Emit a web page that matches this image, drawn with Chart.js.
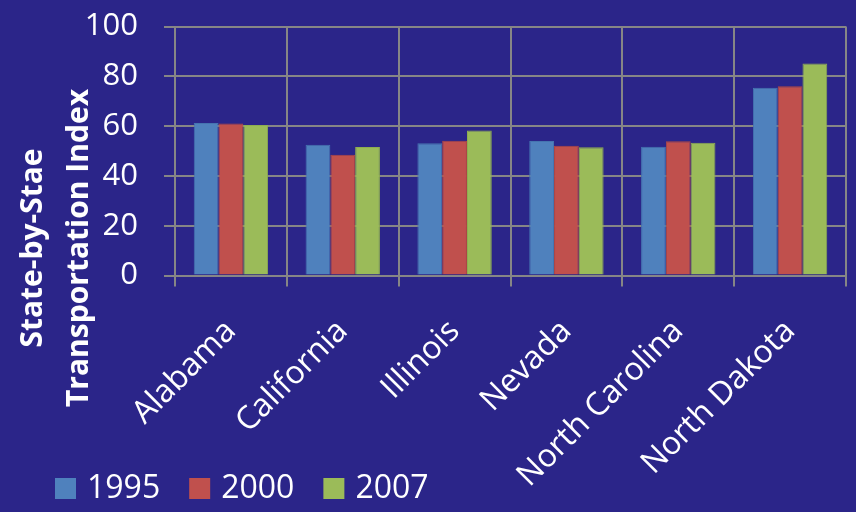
<!DOCTYPE html>
<html>
<head>
<meta charset="utf-8">
<script src="https://cdn.jsdelivr.net/npm/chart.js@4"></script>
<style>
html,body{margin:0;padding:0;background:#2B2589;}
canvas{display:block;}
</style>
</head>
<body>
<canvas id="c" width="856" height="512"></canvas>
<script>
const categories = ["Alabama", "California", "Illinois", "Nevada", "North Carolina", "North Dakota"];
const seriesNames = ["1995", "2000", "2007"];
const values1995 = [61.2, 52.5, 53.1, 54.0, 51.7, 75.4];
const values2000 = [61.0, 48.5, 54.1, 52.1, 53.9, 76.0];
const values2007 = [60.4, 51.6, 58.2, 51.5, 53.3, 85.1];
const yTicks = [0, 20, 40, 60, 80, 100];
const yTitleLines = ["State-by-Stae", "Transportation Index"];
const seriesColors = ['#4F81BD', '#C0504D', '#9BBB59'];
const seriesBorders = ['#4574B0', '#B04744', '#8EAD50'];

const FONT = "'Open Sans', 'DejaVu Sans', sans-serif";
const GRID = '#868686';

const bgPlugin = {
  id: 'bg',
  beforeDraw(chart) {
    const ctx = chart.ctx;
    ctx.save();
    ctx.fillStyle = '#2B2589';
    ctx.fillRect(0, 0, chart.width, chart.height);
    ctx.restore();
  }
};

const yTitlePlugin = {
  id: 'ytitle',
  afterDraw(chart) {
    const ctx = chart.ctx;
    ctx.save();
    ctx.fillStyle = '#FFFFFF';
    ctx.font = "bold 30px " + FONT;
    ctx.textAlign = 'center';
    ctx.textBaseline = 'alphabetic';
    const cy = 248;
    const baselines = [42, 88];
    yTitleLines.forEach((t, i) => {
      ctx.save();
      ctx.translate(baselines[i], cy);
      ctx.rotate(-Math.PI / 2);
      ctx.fillText(t, 0, 0);
      ctx.restore();
    });
    ctx.restore();
  }
};

const legendPlugin = {
  id: 'bottomLegend',
  afterDraw(chart) {
    const ctx = chart.ctx;
    ctx.save();
    ctx.font = "32px " + FONT;
    ctx.textBaseline = 'middle';
    ctx.textAlign = 'left';
    let x = 55;
    const boxY = 478, box = 21, cy = 488.5;
    chart.data.datasets.forEach(ds => {
      ctx.fillStyle = ds.backgroundColor;
      ctx.fillRect(x, boxY, box, box);
      const tx = x + box + 11;
      ctx.fillStyle = '#FFFFFF';
      ctx.fillText(ds.label, tx, cy);
      x = tx + ctx.measureText(ds.label).width + 29;
    });
    ctx.restore();
  }
};

new Chart(document.getElementById('c'), {
  type: 'bar',
  data: {
    labels: categories,
    datasets: seriesNames.map((name, i) => ({
      label: name,
      data: [values1995, values2000, values2007][i],
      backgroundColor: seriesColors[i],
      borderColor: seriesBorders[i],
      borderWidth: 1
    }))
  },
  options: {
    responsive: false,
    animation: false,
    devicePixelRatio: 1,
    layout: { padding: { left: 29, right: 10, top: 26.5, bottom: 0 } },
    datasets: { bar: { categoryPercentage: 0.665, barPercentage: 1.0 } },
    plugins: {
      legend: { display: false },
      tooltip: { enabled: false },
      title: { display: false }
    },
    scales: {
      x: {
        offset: true,
        grid: { color: GRID, lineWidth: 2, offset: true, tickLength: 11, drawTicks: true },
        border: { color: GRID, width: 2 },
        ticks: {
          color: '#FFFFFF',
          font: { family: FONT, size: 32 },
          maxRotation: 45,
          minRotation: 45,
          padding: 26,
          autoSkip: false
        },
        afterFit(scale) { scale.height = 236.5; }
      },
      y: {
        min: 0,
        max: 100,
        afterBuildTicks(scale) { scale.ticks = yTicks.map(v => ({ value: v })); },
        grid: { color: GRID, lineWidth: 2, tickLength: 11, drawTicks: true },
        border: { color: GRID, width: 2 },
        ticks: {
          color: '#FFFFFF',
          font: { family: FONT, size: 31 },
          padding: 26
        },
        afterFit(scale) { scale.width = 146; scale.paddingTop = 0; scale.paddingBottom = 0; }
      }
    }
  },
  plugins: [bgPlugin, yTitlePlugin, legendPlugin]
});
</script>
</body>
</html>
